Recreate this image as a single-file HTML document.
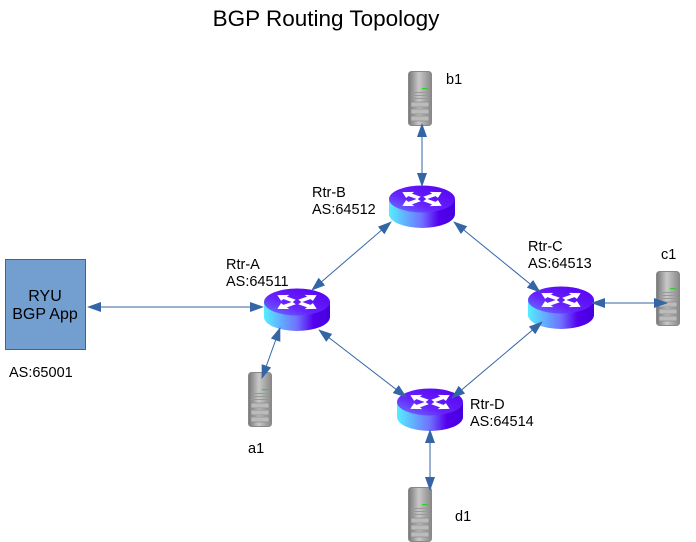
<!DOCTYPE html>
<html><head><meta charset="utf-8"><style>
html,body{margin:0;padding:0;background:#fff;}
svg{display:block;font-family:"Liberation Sans",sans-serif;}
</style></head><body>
<svg width="696" height="542" viewBox="0 0 696 542" xmlns="http://www.w3.org/2000/svg">
<defs>
<marker id="ar" viewBox="0 0 14 10" refX="13" refY="5" markerWidth="14" markerHeight="10" markerUnits="userSpaceOnUse" orient="auto-start-reverse">
<path d="M0,0 L14,5 L0,10 Z" fill="#3465a4"/>
</marker>
<linearGradient id="side" x1="0" x2="1" y1="0" y2="0">
<stop offset="0" stop-color="#55eeff"/><stop offset="0.5" stop-color="#7070ff"/><stop offset="0.75" stop-color="#5500ee"/><stop offset="1" stop-color="#4400dd"/>
</linearGradient>
<linearGradient id="top" x1="0" x2="1" y1="1" y2="0">
<stop offset="0" stop-color="#6a7cff"/><stop offset="0.4" stop-color="#6622ff"/><stop offset="1" stop-color="#5500ee"/>
</linearGradient>
<linearGradient id="srv" x1="0" x2="1">
<stop offset="0" stop-color="#777"/><stop offset="0.45" stop-color="#c8c8c8"/><stop offset="1" stop-color="#888"/>
</linearGradient>
<g id="arw"><path d="M0,-2.5 L-9,-2.5 L-9,-6 L-17,0 L-9,6 L-9,2.5 L0,2.5 Z" fill="#fff"/></g>
<g id="router">
<path d="M0,14 L0,29 A33,14 0 0 0 66,29 L66,14 Z" fill="url(#side)"/>
<ellipse cx="33" cy="14" rx="33" ry="13.5" fill="url(#top)"/>
<g transform="translate(33,14) scale(1.2,0.6)">
<use href="#arw" transform="rotate(35) translate(-3,0)"/>
<use href="#arw" transform="rotate(145) translate(-3,0)"/>
<use href="#arw" transform="rotate(-35) translate(-3,0)"/>
<use href="#arw" transform="rotate(-145) translate(-3,0)"/>
</g>
</g>
<g id="server">
<rect x="0.5" y="0.5" width="23" height="54" rx="3" fill="url(#srv)" stroke="#888"/>
<rect x="3" y="21" width="18" height="1" fill="#999"/>
<rect x="3" y="24" width="18" height="1" fill="#999"/>
<rect x="3" y="27" width="18" height="1" fill="#999"/>
<rect x="3" y="31" width="18" height="5" fill="#bbb" stroke="#888" stroke-width="0.7"/>
<rect x="3" y="38" width="18" height="5" fill="#bbb" stroke="#888" stroke-width="0.7"/>
<rect x="3" y="45" width="18" height="5" fill="#bbb" stroke="#888" stroke-width="0.7"/>
<rect x="14" y="17" width="6" height="1.2" fill="#3c3"/>
</g>
</defs>

<text x="326" y="26" font-size="22.5" text-anchor="middle" fill="#000">BGP Routing Topology</text>

<rect x="5.5" y="259.5" width="80" height="90" fill="#729fcf" stroke="#3465a4"/>
<text x="45" y="301" font-size="16" text-anchor="middle">RYU</text>
<text x="45" y="319" font-size="16" text-anchor="middle">BGP App</text>
<text x="9" y="377" font-size="14.5">AS:65001</text>

<use href="#router" x="264" y="288"/>
<use href="#router" x="389" y="185"/>
<use href="#router" x="528" y="286"/>
<use href="#router" x="397" y="388"/>

<use href="#server" x="408" y="71"/>
<use href="#server" x="248" y="372"/>
<use href="#server" x="656" y="271"/>
<use href="#server" x="408" y="487"/>

<g stroke="#3465a4" stroke-width="1" fill="none" marker-start="url(#ar)" marker-end="url(#ar)">
<line x1="88" y1="307" x2="263" y2="307"/>
<line x1="312" y1="290" x2="391" y2="222"/>
<line x1="454" y1="222" x2="540" y2="292"/>
<line x1="319" y1="330" x2="406" y2="397"/>
<line x1="542" y1="322" x2="452" y2="398"/>
<line x1="280" y1="328" x2="262" y2="378"/>
<line x1="422" y1="124" x2="422" y2="186"/>
<line x1="592" y1="303" x2="667" y2="303"/>
<line x1="430" y1="430" x2="430" y2="490"/>
</g>

<g font-size="14.5" fill="#000">
<text x="226" y="269">Rtr-A</text><text x="226" y="286">AS:64511</text>
<text x="312" y="197">Rtr-B</text><text x="312" y="214">AS:64512</text>
<text x="528" y="251">Rtr-C</text><text x="528" y="268">AS:64513</text>
<text x="470" y="409">Rtr-D</text><text x="470" y="426">AS:64514</text>
<text x="446" y="84">b1</text>
<text x="248" y="453">a1</text>
<text x="661" y="259">c1</text>
<text x="455" y="521">d1</text>
</g>
</svg>
</body></html>
